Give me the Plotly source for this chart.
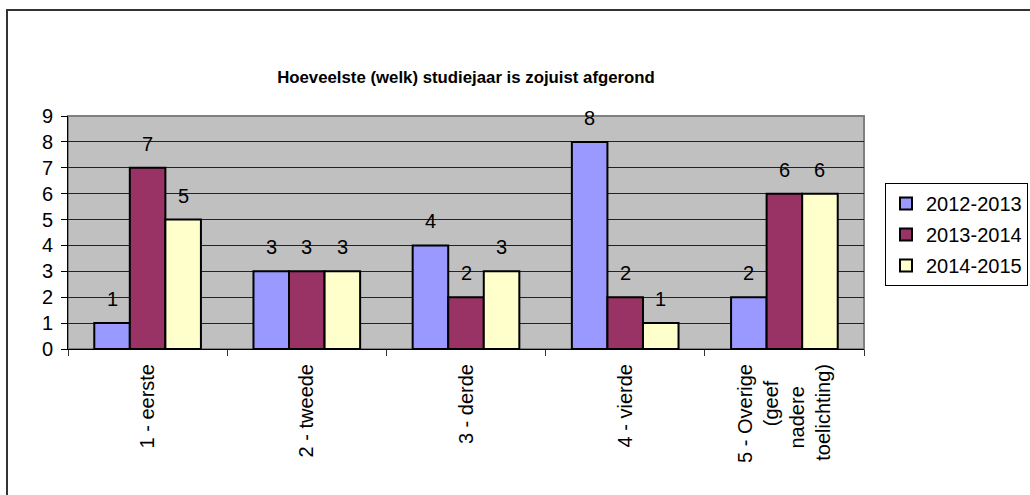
"""Grouped bar chart: which study year was just completed, per academic year"""
import plotly.graph_objects as go

NB = '\u00a0'
# the shorter lines of the last label get trailing no-break spaces so they look centred
categories = ['1 - eerste', '2 - tweede', '3 - derde', '4 - vierde',
              '5 - Overige<br>(geef' + NB * 3 + '<br>nadere' + NB * 4 + '<br>toelichting)']
years = ['2012-2013', '2013-2014', '2014-2015']
values_2012 = [1, 3, 4, 8, 2]
values_2013 = [7, 3, 2, 2, 6]
values_2014 = [5, 3, 3, 1, 6]
colours = ['#9999FF', '#993366', '#FFFFCC']

FONT = 'Arial, Liberation Sans, sans-serif'

W, H = 1030, 495
PLOT_L, PLOT_T, PLOT_W, PLOT_H = 68, 116, 796, 233


def draw_chart() -> None:
    """Draw the grouped bar chart in an old Excel look"""
    series = [values_2012, values_2013, values_2014]
    fig = go.Figure()

    for i in range(len(series)):
        fig.add_trace(go.Bar(
            x=categories,
            y=series[i],
            name=years[i],
            legendgroup=years[i],
            marker=dict(color=colours[i], line=dict(color='black', width=2)),
        ))

    # value labels sit well above each bar, like Excel does it
    shifts = [-35.5, 0, 35.5]
    for i in range(len(series)):
        for j in range(len(categories)):
            fig.add_annotation(x=categories[j], y=series[i][j], text=str(series[i][j]),
                               xref='x', yref='y', showarrow=False,
                               xshift=shifts[i], yshift=24, yanchor='middle',
                               font=dict(family=FONT, size=20, color='black'))

    bottom = PLOT_T + PLOT_H
    fig.update_layout(
        width=W, height=H,
        # autoexpand off, otherwise the legend pushes the plot area narrower
        margin=dict(l=PLOT_L, r=W - PLOT_L - PLOT_W, t=PLOT_T, b=H - bottom,
                    autoexpand=False),
        paper_bgcolor='white',
        plot_bgcolor='#C0C0C0',
        barmode='group',
        bargap=0.33,
        bargroupgap=0,
        font=dict(family=FONT, size=20, color='black'),
        title=dict(text='<b>Hoeveelste (welk) studiejaar is zojuist afgerond</b>',
                   x=0.5, xref='paper', y=1 - 77 / H, yanchor='middle',
                   font=dict(family=FONT, size=16.8, color='black')),
        legend=dict(x=(885 - PLOT_L) / PLOT_W, y=(bottom - 183) / PLOT_H,
                    xanchor='left', yanchor='top', itemwidth=30,
                    bgcolor='white', bordercolor='black', borderwidth=1,
                    tracegroupgap=2, font=dict(family=FONT, size=20)),
        xaxis=dict(tickangle=-90, tickson='boundaries', ticks='outside', ticklen=6,
                   tickcolor='#333333', showline=True, linecolor='black', linewidth=1,
                   showgrid=False, ticklabelstandoff=6),
        yaxis=dict(range=[0, 9], dtick=1, ticks='outside', ticklen=6, tickcolor='black',
                   showline=True, linecolor='black', linewidth=1, ticklabelstandoff=4,
                   gridcolor='#222222', gridwidth=1, zeroline=False),
        shapes=[
            # grey frame around the plot area (top and right show)
            dict(type='rect', xref='paper', yref='paper', x0=0, x1=1, y0=0, y1=1,
                 line=dict(color='#808080', width=2), layer='below'),
            # chart border, cut off at right and bottom
            dict(type='rect', xref='paper', yref='paper',
                 x0=(7 - PLOT_L) / PLOT_W, x1=1.3, y0=-0.8, y1=(bottom - 10) / PLOT_H,
                 line=dict(color='#333333', width=2)),
        ],
    )

    # no page margin and no scrollbars, so the figure fills the window exactly
    js = ("document.documentElement.style.overflow='hidden';"
          "document.body.style.margin='0px';document.body.style.overflow='hidden';")
    fig.write_html('out.html', post_script=js, config={'displayModeBar': False})


draw_chart()
